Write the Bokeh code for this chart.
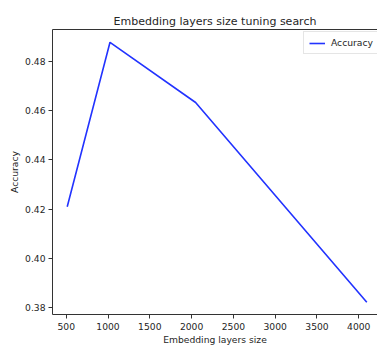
from bokeh.plotting import figure
from bokeh.models import Range1d, FixedTicker, PrintfTickFormatter, LinearAxis
from bokeh.embed import file_html
from bokeh.resources import INLINE

sizes = [512, 1024, 2048, 4096]
accuracy = [0.4210, 0.4877, 0.4633, 0.3823]
x_ticks = [500, 1000, 1500, 2000, 2500, 3000, 3500, 4000]
y_ticks = [0.38, 0.40, 0.42, 0.44, 0.46, 0.48]

FONT = "DejaVu Sans"
TEXT = "#262626"
AXIS = "#333333"

p = figure(width=377, height=347, output_backend="svg", toolbar_location=None,
           x_range=Range1d(336, 4224), y_range=Range1d(0.3773, 0.4929),
           min_border_left=52, min_border_right=0, min_border_top=29,
           min_border_bottom=33)

p.line(sizes, accuracy, line_color="#2233ff", line_width=1.6, legend_label="Accuracy")

p.title.text = "Embedding layers size tuning search"
p.title.align = "center"
p.title.text_font = FONT
p.title.text_font_size = "11px"
p.title.text_font_style = "normal"
p.title.text_color = TEXT
p.title.standoff = 4

p.outline_line_color = None
p.xgrid.grid_line_color = None
p.ygrid.grid_line_color = None

for ax in (p.xaxis[0], p.yaxis[0]):
    ax.axis_line_color = AXIS
    ax.major_tick_line_color = AXIS
    ax.major_tick_out = 4
    ax.major_tick_in = 0
    ax.minor_tick_line_color = None
    ax.major_label_text_font = FONT
    ax.major_label_text_font_size = "9.2px"
    ax.major_label_text_color = TEXT
    ax.major_label_standoff = 3
    ax.axis_label_text_font = FONT
    ax.axis_label_text_font_size = "9.2px"
    ax.axis_label_text_font_style = "normal"
    ax.axis_label_text_color = TEXT

p.xaxis[0].ticker = FixedTicker(ticks=x_ticks)
p.yaxis[0].ticker = FixedTicker(ticks=y_ticks)
p.yaxis[0].formatter = PrintfTickFormatter(format="%.2f")
p.xaxis[0].axis_label = "Embedding layers size"
p.yaxis[0].axis_label = "Accuracy"
p.xaxis[0].major_label_standoff = 4
p.xaxis[0].axis_label_standoff = 1
p.yaxis[0].axis_label_standoff = 2

top = LinearAxis(ticker=FixedTicker(ticks=[]), axis_line_color=AXIS,
                 major_tick_out=0, major_tick_in=0, minor_tick_line_color=None,
                 major_label_text_font_size="0px")
p.add_layout(top, "above")

lg = p.legend[0]
lg.location = (251, 260)
lg.margin = 0
lg.padding = 5
lg.spacing = 0
lg.glyph_width = 16
lg.glyph_height = 10
lg.label_standoff = 6
lg.label_text_font = FONT
lg.label_text_font_size = "9.2px"
lg.label_text_color = TEXT
lg.border_line_color = "#cccccc"
lg.border_line_width = 1
lg.background_fill_alpha = 0.85

open("out.html", "w").write(file_html(p, INLINE))
